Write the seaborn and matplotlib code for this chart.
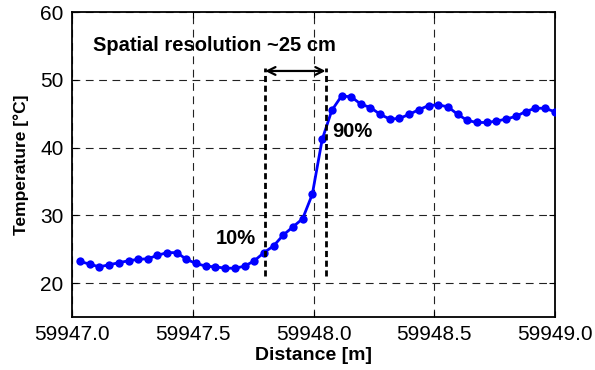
import matplotlib
matplotlib.use("Agg")
import matplotlib.pyplot as plt
import seaborn as sns
import pandas as pd

# Sampled distance along the fibre [m]
distance = [
    59947.033, 59947.073, 59947.113, 59947.153, 59947.193, 59947.234, 59947.274,
    59947.314, 59947.354, 59947.394, 59947.434, 59947.474, 59947.514, 59947.554,
    59947.594, 59947.635, 59947.675, 59947.715, 59947.755, 59947.795, 59947.835,
    59947.875, 59947.915, 59947.955, 59947.995, 59948.036, 59948.076, 59948.116,
    59948.156, 59948.196, 59948.236, 59948.276, 59948.316, 59948.356, 59948.396,
    59948.437, 59948.477, 59948.517, 59948.557, 59948.597, 59948.637, 59948.677,
    59948.717, 59948.757, 59948.797, 59948.838, 59948.878, 59948.918, 59948.958,
    59948.998,
]

# Measured temperature [°C]
temperature = [
    23.2, 22.8, 22.4, 22.7, 23.0, 23.3, 23.5, 23.6, 24.1, 24.5,
    24.5, 23.5, 22.9, 22.5, 22.4, 22.2, 22.2, 22.5, 23.3, 24.5,
    25.5, 27.1, 28.3, 29.5, 33.1, 41.2, 45.5, 47.6, 47.5, 46.4,
    45.9, 44.9, 44.2, 44.3, 44.9, 45.6, 46.2, 46.3, 46.0, 44.9,
    44.0, 43.7, 43.7, 43.9, 44.2, 44.6, 45.3, 45.8, 45.8, 45.3,
]

# 10 % / 90 % rise positions and annotation text
rise_limits = [59947.80, 59948.05]
rise_span = [21.0, 51.7]
arrow_y = 51.3
title_text = "Spatial resolution ~25 cm"
label_10 = "10%"
label_90 = "90%"

x_ticks = [59947.0, 59947.5, 59948.0, 59948.5, 59949.0]
y_ticks = [20, 30, 40, 50, 60]

sns.set_style("ticks")
plt.rcParams["font.family"] = ["Liberation Sans", "DejaVu Sans"]
plt.rcParams["text.color"] = "black"
plt.rcParams["axes.labelcolor"] = "black"

df = pd.DataFrame({"Distance": distance, "Temperature": temperature})

fig = plt.figure(figsize=(5.95, 3.7), dpi=100)
ax = fig.add_axes([72 / 595, 1 - 317 / 370, (555 - 72) / 595, (317 - 12) / 370])

ax.grid(True, linestyle=(0, (7, 5)), color="#222222", linewidth=0.8)
ax.set_axisbelow(True)

sns.lineplot(data=df, x="Distance", y="Temperature", ax=ax, color="#0000ff",
             linewidth=2.0, marker="o", markersize=6, markeredgewidth=0,
             markerfacecolor="#0000ff", zorder=3)

for xv in rise_limits:
    ax.plot([xv, xv], rise_span, color="black", linewidth=2.0,
            linestyle=(0, (2.2, 1.3)), zorder=4)

ax.annotate("", xy=(rise_limits[1], arrow_y), xytext=(rise_limits[0], arrow_y),
            arrowprops=dict(arrowstyle="<->", color="black", lw=1.6,
                            shrinkA=0, shrinkB=0, mutation_scale=14), zorder=5)

ax.text(59947.087, 55.1, title_text, fontsize=14.5, fontweight="bold",
        color="black", ha="left", va="center", zorder=5)
ax.text(59947.679, 26.65, label_10, fontsize=14.5, fontweight="bold",
        color="black", ha="center", va="center", zorder=5)
ax.text(59948.161, 42.3, label_90, fontsize=14.5, fontweight="bold",
        color="black", ha="center", va="center", zorder=5)

ax.set_xlim(59947.0, 59949.0)
ax.set_ylim(15, 60)
ax.set_xticks(x_ticks)
ax.set_xticklabels([f"{v:.1f}" for v in x_ticks])
ax.set_yticks(y_ticks)
ax.set_yticklabels([str(v) for v in y_ticks])
ax.tick_params(axis="both", direction="in", length=4, width=0.8, labelsize=15,
               colors="black", top=True, right=True, pad=6)

for sp in ax.spines.values():
    sp.set_visible(True)
    sp.set_color("black")
    sp.set_linewidth(1.3)

ax.set_xlabel("Distance [m]", fontsize=14, fontweight="bold", color="black",
              labelpad=2)
ax.set_ylabel("Temperature [\u00b0C]", fontsize=12.5, fontweight="bold",
              color="black", labelpad=8)

fig.savefig("out.png", dpi=100)
